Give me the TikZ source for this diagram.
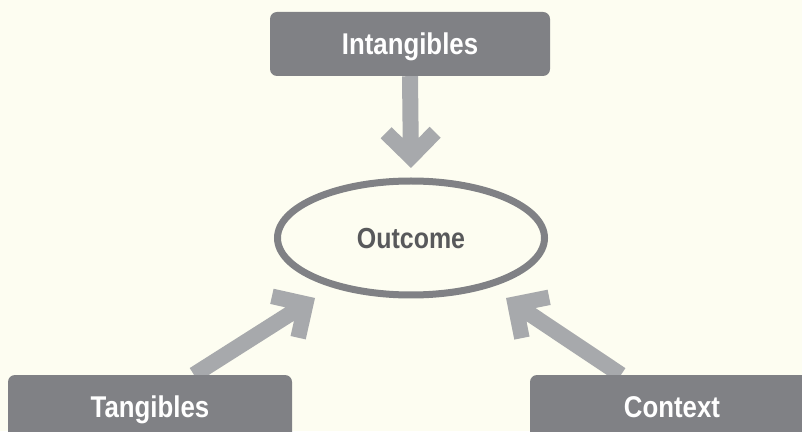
\documentclass[tikz,border=0pt]{standalone}
\usepackage{fontspec}
\setmainfont{Liberation Sans}[FakeStretch=0.86]
\usetikzlibrary{calc,shapes.geometric}
\pgfdeclarelayer{backdrop}
\pgfdeclarelayer{arrowlayer}
\pgfsetlayers{backdrop,arrowlayer,main}
\definecolor{bg}{RGB}{253,253,241}
\definecolor{boxgray}{RGB}{128,129,133}
\definecolor{arrowgray}{RGB}{167,169,172}
\definecolor{textgray}{RGB}{88,89,91}
\tikzset{
  box/.style={fill=boxgray, rounded corners=7pt, minimum width=280pt, minimum height=64pt,
    inner sep=0pt, text=white, font=\fontsize{30}{30}\selectfont\bfseries,
    text height=21.5pt, text depth=0pt},
  fatfill/.style={fill=arrowgray}
}
\newcommand{\fatarrow}[2]{%
  \path let \p1=(#1), \p2=(#2),
    \n1={atan2(\y2-\y1,\x2-\x1)}, \n2={veclen(\x2-\x1,\y2-\y1)} in
    \pgfextra{\xdef\faang{\n1}\xdef\falen{\n2}\xdef\fax{\x2}\xdef\fay{\y2}};
  \begin{scope}[shift={(\fax,\fay)}, rotate=\faang]
    \fill[fatfill] (0,0) -- (-30,30) -- (-41,19) -- (-30,8) -- (-\falen,8)
      -- (-\falen,-8) -- (-30,-8) -- (-41,-19) -- (-30,-30) -- cycle;
  \end{scope}}
\begin{document}
\begin{tikzpicture}[x=1pt,y=1pt]
  \useasboundingbox (0,0) rectangle (802,431);
  \begin{pgfonlayer}{backdrop}
    \fill[bg] (0,0) rectangle (802,431);
  \end{pgfonlayer}
  % nodes
  \node[box] (intang) at (410,387) {Intangibles};
  \node[box, minimum width=284pt] (tang) at (150,24) {Tangibles};
  \node[box, minimum width=284pt] (ctx) at (672,24) {Context};
  \node[draw=boxgray, line width=7pt, ellipse, minimum width=267pt, minimum height=114pt,
    inner sep=0pt, text=textgray, font=\fontsize{29}{29}\selectfont\bfseries,
    text height=21pt, text depth=0pt] (out) at (411,193) {Outcome};
  % arrow tips
  \coordinate (tipI) at (411,263);
  \coordinate (tipT) at (315,133);
  \coordinate (tipC) at (506,133);
  \coordinate (tailT) at ([xshift=44pt]tang.north);
  \coordinate (tailC) at ([xshift=-51pt]ctx.north);
  \begin{pgfonlayer}{arrowlayer}
    \fatarrow{intang.south}{tipI}
    \fatarrow{tailT}{tipT}
    \fatarrow{tailC}{tipC}
  \end{pgfonlayer}
\end{tikzpicture}
\end{document}
